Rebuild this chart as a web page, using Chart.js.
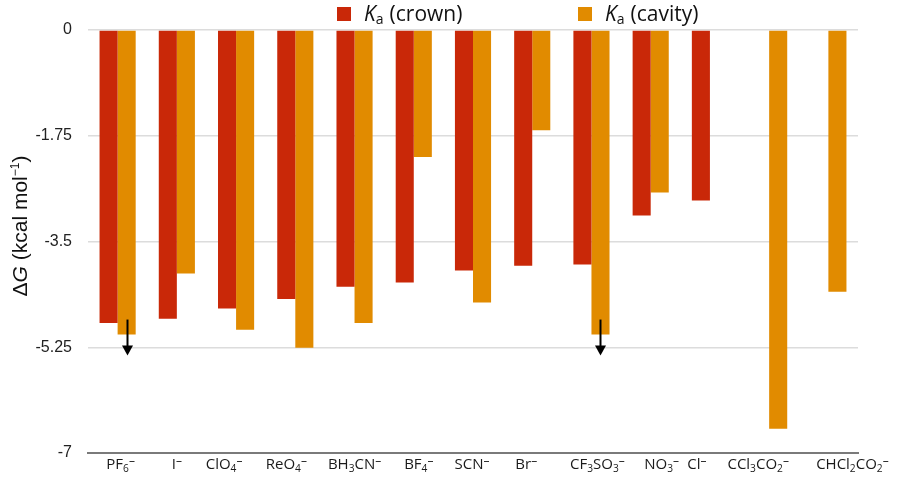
<!DOCTYPE html>
<html>
<head>
<meta charset="utf-8">
<script src="https://cdn.jsdelivr.net/npm/chart.js@4"></script>
<style>
  html, body { margin: 0; padding: 0; background: #fff; }
  #wrap { width: 900px; height: 479px; position: relative; }
</style>
</head>
<body>
<div id="wrap"><canvas id="dgChart"></canvas></div>
<script>
const anions = ['PF₆⁻', 'I⁻', 'ClO₄⁻', 'ReO₄⁻', 'BH₃CN⁻', 'BF₄⁻', 'SCN⁻', 'Br⁻', 'CF₃SO₃⁻', 'NO₃⁻', 'Cl⁻', 'CCl₃CO₂⁻', 'CHCl₂CO₂⁻'];
const crown  = [-4.85, -4.78, -4.61, -4.45, -4.25, -4.18, -3.98, -3.90, -3.88, -3.07, -2.82, null, null];
const cavity = [-5.04, -4.03, -4.96, -5.26, -4.85, -2.10, -4.51, -1.66, -5.04, -2.69, null, -6.60, -4.33];
// cavity values that are only upper bounds (drawn with a down arrow)
const cavityLimit = [true, false, false, false, false, false, false, false, true, false, false, false, false];
const yTicks = [0, -1.75, -3.5, -5.25, -7];

const RED = '#C92808';
const ORANGE = '#E18B00';
const TEXT_FONT = '"Open Sans"';
// the original labels are not centred under their bars; nudge them (px)
const labelNudge = [3, 0, -12, -9, 0, 5, -1, -6, 6, 11, -13, -11, 24];

// draw "CCl₃CO₂⁻" style text with real subscripts and a raised dash
function richParts(str, size) {
    const subs = '₀₁₂₃₄₅₆₇₈₉';
    return Array.from(str).map(ch => {
        const k = subs.indexOf(ch);
        if (k >= 0) return { t: String(k), size: size * 0.68, dy: 3 };
        if (ch === '⁻') return { t: '–', size: size * 0.8, dy: -4 };
        return { t: ch, size: size, dy: 0 };
    });
}
function drawRich(ctx, str, cx, baseline, size) {
    const parts = richParts(str, size);
    let w = 0;
    parts.forEach(p => { ctx.font = p.size + 'px ' + TEXT_FONT; p.w = ctx.measureText(p.t).width; w += p.w; });
    let x = cx - w / 2;
    parts.forEach(p => { ctx.font = p.size + 'px ' + TEXT_FONT; ctx.fillText(p.t, x, baseline + p.dy); x += p.w; });
}

// down arrows on the limit bars
const arrowPlugin = {
    id: 'limitArrows',
    afterDatasetsDraw(chart) {
        const ctx = chart.ctx;
        const meta = chart.getDatasetMeta(1);
        ctx.save();
        ctx.strokeStyle = '#000';
        ctx.fillStyle = '#000';
        ctx.lineWidth = 2;
        cavityLimit.forEach((on, i) => {
            if (!on) return;
            const bar = meta.data[i];
            const x = Math.round(bar.x) + 0.5;
            ctx.beginPath();
            ctx.moveTo(x, bar.y - 15);
            ctx.lineTo(x, bar.y + 13);
            ctx.stroke();
            ctx.beginPath();
            ctx.moveTo(x - 5.5, bar.y + 11);
            ctx.lineTo(x + 5.5, bar.y + 11);
            ctx.lineTo(x, bar.y + 21);
            ctx.closePath();
            ctx.fill();
        });
        ctx.restore();
    }
};

// legend with italic K and subscript a, x labels, and the y axis title
const textPlugin = {
    id: 'customText',
    afterDraw(chart) {
        const ctx = chart.ctx;
        ctx.save();
        ctx.textBaseline = 'alphabetic';
        ctx.fillStyle = '#111';

        function legendItem(x, color, label) {
            ctx.fillStyle = color;
            ctx.fillRect(x, 7, 14, 14);
            ctx.fillStyle = '#111';
            let tx = x + 27;
            ctx.font = 'italic 21px ' + TEXT_FONT;
            ctx.fillText('K', tx, 21);
            tx += ctx.measureText('K').width;
            ctx.font = '14px ' + TEXT_FONT;
            ctx.fillText('a', tx, 24);
            tx += ctx.measureText('a').width + 6;
            ctx.font = '21px ' + TEXT_FONT;
            ctx.fillText(label, tx, 21);
        }
        legendItem(337, RED, '(crown)');
        legendItem(578, ORANGE, '(cavity)');

        // category labels
        const xs = chart.scales.x;
        ctx.fillStyle = '#1a1a1a';
        anions.forEach((lab, i) => {
            drawRich(ctx, lab, xs.getPixelForTick(i) + labelNudge[i], 469, 15);
        });

        // y title, rotated
        ctx.fillStyle = '#111';
        ctx.translate(27, 226);
        ctx.rotate(-Math.PI / 2);
        const F = '"Liberation Sans"';
        ctx.font = '21px ' + F;
        const wD = ctx.measureText('Δ').width;
        ctx.font = 'italic 21px ' + F;
        const wG = ctx.measureText('G').width;
        ctx.font = '21px ' + F;
        const wMid = ctx.measureText(' (kcal mol').width;
        ctx.font = '12px ' + F;
        const wSup = ctx.measureText('−1').width;
        ctx.font = '21px ' + F;
        const wEnd = ctx.measureText(')').width;
        let x = -(wD + wG + wMid + wSup + wEnd) / 2;
        ctx.fillText('Δ', x, 0); x += wD;
        ctx.font = 'italic 21px ' + F;
        ctx.fillText('G', x, 0); x += wG;
        ctx.font = '21px ' + F;
        ctx.fillText(' (kcal mol', x, 0); x += wMid;
        ctx.font = '12px ' + F;
        ctx.fillText('−1', x, -8); x += wSup;
        ctx.font = '21px ' + F;
        ctx.fillText(')', x, 0);
        ctx.restore();
    }
};

const ctx = document.getElementById('dgChart').getContext('2d');
const dgChart = new Chart(ctx, {
    type: 'bar',
    data: {
        labels: anions,
        datasets: [
            { label: 'Ka (crown)', data: crown, backgroundColor: RED },
            { label: 'Ka (cavity)', data: cavity, backgroundColor: ORANGE }
        ]
    },
    options: {
        responsive: true,
        maintainAspectRatio: false,
        animation: false,
        categoryPercentage: 0.61,
        barPercentage: 1,
        layout: { padding: { top: 30, right: 42, bottom: 0, left: 0 } },
        plugins: {
            legend: { display: false },
            tooltip: { enabled: false }
        },
        scales: {
            x: {
                grid: { display: false, drawTicks: false },
                border: { display: true, color: '#7a7a7a', width: 2 },
                ticks: { display: false },
                afterFit: (s) => { s.height = 26; }
            },
            y: {
                min: -7,
                max: 0,
                afterBuildTicks: (s) => { s.ticks = yTicks.map(v => ({ value: v })); },
                grid: { color: '#dcdcdc', drawTicks: false, lineWidth: 1.5 },
                border: { display: false },
                ticks: { color: '#222', font: { family: 'Liberation Sans', size: 16 }, padding: 16,
                         callback: (v) => String(v) },
                afterFit: (s) => { s.width = 88; }
            }
        }
    },
    plugins: [arrowPlugin, textPlugin]
});
</script>
</body>
</html>
